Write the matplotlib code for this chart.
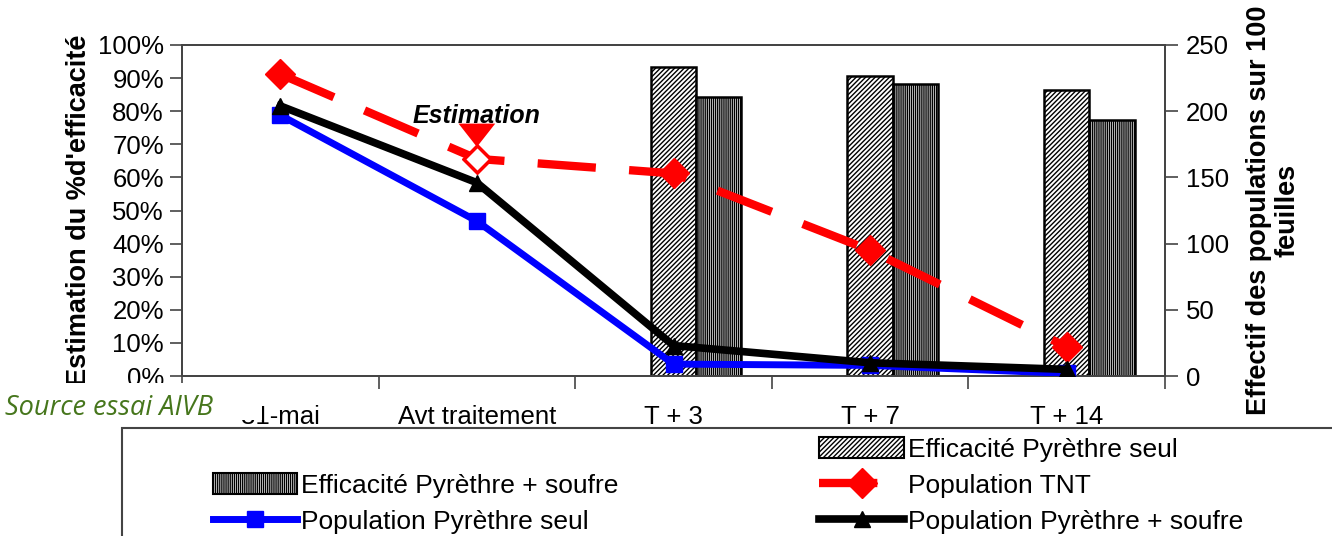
import matplotlib
matplotlib.use("Agg")
import matplotlib.pyplot as plt
from matplotlib.patches import Patch, Rectangle
from matplotlib.lines import Line2D
import numpy as np

plt.rcParams['font.family'] = ['Liberation Sans', 'DejaVu Sans']
plt.rcParams['hatch.linewidth'] = 1.0

categories = ["31-mai", "Avt traitement", "T + 3", "T + 7", "T + 14"]

# efficacy bars (left axis, %), only after treatment
eff_seul = [None, None, 93.4, 90.7, 86.3]
eff_soufre = [None, None, 84.4, 88.2, 77.2]

# populations on 100 leaves (right axis)
pop_tnt = [228, 164, 153, 95, 22]
pop_seul = [197, 117, 9, 8, 2]
pop_soufre = [204, 146, 23, 10, 5]

x = np.arange(len(categories))
w = 0.23
fs = 18.5

fig = plt.figure(figsize=(13.32, 5.36), dpi=100)
ax = fig.add_axes([182/1332, 1-376/536, (1165-182)/1332, (376-45)/536])
ax2 = ax.twinx()

# bars
idx = [i for i, v in enumerate(eff_seul) if v is not None]
ax.bar(x[idx], [eff_seul[i] for i in idx], width=w, color="white",
       edgecolor="black", linewidth=1.8, hatch="///////", zorder=2)
ax.bar(x[idx] + w, [eff_soufre[i] for i in idx], width=w, color="white",
       edgecolor="black", linewidth=1.8, hatch="||||||||", zorder=2)

ax.set_xlim(-0.5, 4.5)
ax.set_ylim(0, 100)
ax.set_yticks(np.arange(0, 101, 10))
ax.set_yticklabels([f"{v}%" for v in range(0, 101, 10)])
ax.set_xticks(x)
ax.set_xticklabels(categories)
ax.set_xticks(np.arange(-0.5, 5, 1), minor=True)
ax.tick_params(axis="x", which="major", length=0, pad=21, labelsize=fs)
ax.tick_params(axis="x", which="minor", length=9, width=1.2, color="#444444")
ax.tick_params(axis="y", length=9, width=1.2, color="#444444", labelsize=fs, pad=4)
ax.set_ylabel("Estimation du %d'efficacité", fontsize=19.5, fontweight="bold", labelpad=4)

# lines
ax2.plot(x, pop_tnt, color="red", lw=6, dashes=(7, 4), marker="D", ms=15,
         markerfacecolor="red", markeredgecolor="red", zorder=3)
ax2.plot(x[1], pop_tnt[1], linestyle="none", marker="D", ms=13,
         markerfacecolor="white", markeredgecolor="red", markeredgewidth=2, zorder=4)
ax2.plot(x, pop_seul, color="#0000FF", lw=5, marker="s", ms=12, zorder=4)
ax2.plot(x, pop_soufre, color="black", lw=5.5, marker="^", ms=12, zorder=5)

ax2.annotate("Estimation", xy=(x[1], pop_tnt[1] + 9), xytext=(x[1], 196),
             textcoords="data", ha="center", va="center", fontsize=18,
             fontweight="bold", fontstyle="italic",
             arrowprops=dict(arrowstyle="-|>,head_length=0.7,head_width=0.55",
                             color="red", lw=0, mutation_scale=24,
                             shrinkA=11, shrinkB=0))

ax2.set_ylim(0, 250)
ax2.set_yticks(np.arange(0, 251, 50))
ax2.tick_params(axis="y", length=9, width=1.2, color="#444444", labelsize=fs, pad=6)
ax2.set_ylabel("Effectif des populations sur 100\nfeuilles", fontsize=19.5,
               fontweight="bold", labelpad=12, linespacing=1.15)

for a in (ax, ax2):
    for s in a.spines.values():
        s.set_color("#444444")
        s.set_linewidth(1.3)

# source note, on a white patch that hides the top of "31" as in the original
fig.patches.append(Rectangle((0, 1-420/536), 262/1332, 37/536,
                             transform=fig.transFigure, facecolor="white",
                             edgecolor="none", zorder=9))
fig.text(5/1332, 1-415/536, "Source essai AIVB", fontsize=19.5, fontstyle="italic",
         family=["Open Sans", "DejaVu Sans"], color="#46761C", va="baseline",
         zorder=10)

# legend box
fig.patches.append(Rectangle((122/1332, -0.1), 1.0, 0.1 + 1-428/536,
                             transform=fig.transFigure, facecolor="white",
                             edgecolor="#444444", linewidth=1.5, zorder=0))

handles = [
    Line2D([], [], color="none"),
    Patch(facecolor="white", edgecolor="black", hatch="||||||||", linewidth=1.5),
    Line2D([], [], color="#0000FF", lw=5, marker="s", ms=12),
    Patch(facecolor="white", edgecolor="black", hatch="///////", linewidth=1.5),
    Line2D([], [], color="red", lw=6, dashes=(7, 4), marker="D", ms=15),
    Line2D([], [], color="black", lw=5.5, marker="^", ms=12),
]
labels = ["", "Efficacité Pyrèthre + soufre", "Population Pyrèthre seul",
          "Efficacité Pyrèthre seul", "Population TNT", "Population Pyrèthre + soufre"]
fig.legend(handles, labels, ncol=2, frameon=False, fontsize=19,
           loc="upper left", bbox_to_anchor=(213/1332, 1-437/536),
           borderpad=0, borderaxespad=0, handlelength=3.2, handleheight=0.85,
           handletextpad=0.15, columnspacing=7.6, labelspacing=0.44, numpoints=1)

fig.savefig("out.png", dpi=100)
